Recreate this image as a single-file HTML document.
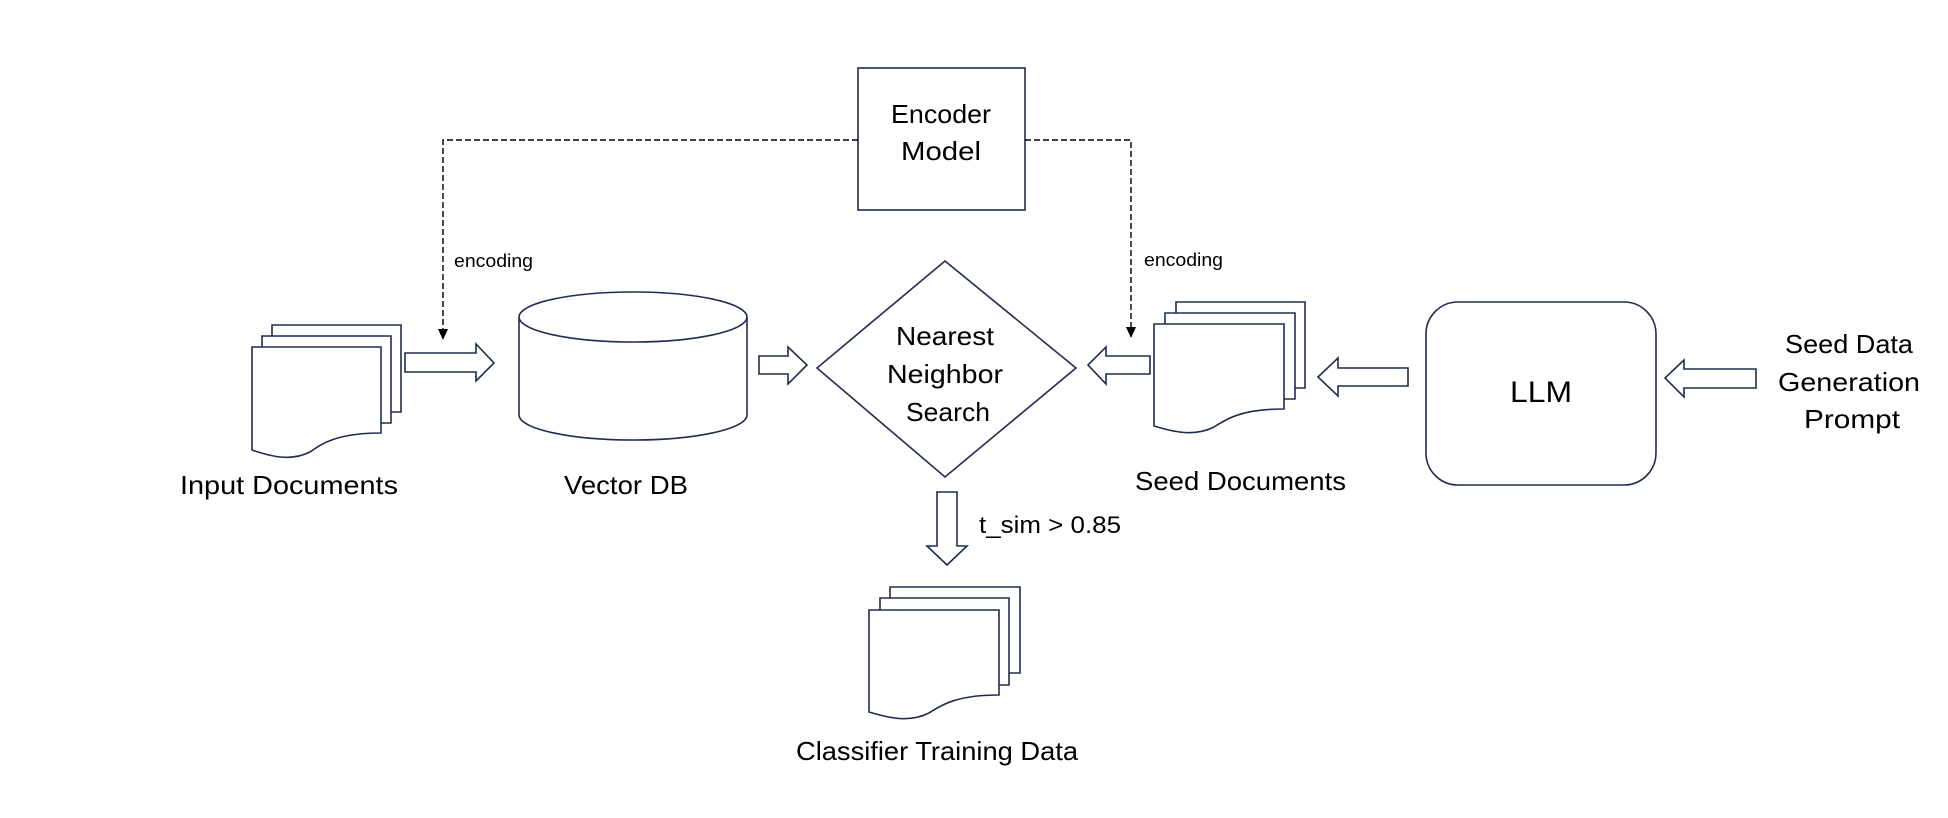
<!DOCTYPE html>
<html><head><meta charset="utf-8"><style>
html,body{margin:0;padding:0;background:#fff;}
svg{display:block;}
text{font-family:"Liberation Sans",sans-serif;fill:#000;}
</style></head><body>
<svg width="1948" height="818" viewBox="0 0 1948 818" xmlns="http://www.w3.org/2000/svg">
<g fill="#fff" stroke="#1f2d4e" stroke-width="1.6">
<!-- Encoder -->
<rect x="858" y="68" width="167" height="142"/>
<!-- Input docs -->
<path d="M272,325 H401 V412 H272 Z"/>
<path d="M262,336 H391 V423 H262 Z"/>
<path d="M252,347 H381 V433 C335,433 320,445 310,452 C290,462 270,456 252,450 Z"/>
<!-- Cylinder -->
<path d="M519,317 V415 A114,25 0 0 0 747,415 V317"/>
<ellipse cx="633" cy="317" rx="114" ry="25"/>
<!-- Diamond -->
<path d="M945,261 L1076,368 L945,477 L817,368 Z"/>
<!-- Seed docs -->
<path d="M1176,302 H1305 V388 H1176 Z"/>
<path d="M1165,313 H1295 V399 H1165 Z"/>
<path d="M1154,324 H1284 V409 C1238,409 1224,421 1214,427 C1194,437 1174,432 1154,426 Z"/>
<!-- LLM -->
<rect x="1426" y="302" width="230" height="183" rx="32"/>
<!-- Classifier docs -->
<path d="M890,587 H1020 V673 H890 Z"/>
<path d="M880,598 H1009 V685 H880 Z"/>
<path d="M869,610 H999 V695 C953,695 939,707 929,713 C909,723 889,718 869,712 Z"/>
<!-- block arrows -->
<path d="M405,353 H476 V344 L494,363 L476,381 V372 H405 Z"/>
<path d="M759,356 H788 V347 L807,365 L788,384 V374 H759 Z"/>
<path d="M1150,356 H1106 V347 L1088,365 L1106,384 V374 H1150 Z"/>
<path d="M1408,368 H1338 V358 L1318,377 L1338,396 V386 H1408 Z"/>
<path d="M1756,369 H1684 V360 L1665,378 L1684,397 V388 H1756 Z"/>
<path d="M937,492 H957 V546 H967 L947,565 L927,546 H937 Z"/>
</g>
<!-- dashed connectors -->
<g fill="none" stroke="#000" stroke-width="1.4" stroke-dasharray="6,3">
<path d="M858,140 H443 V330"/>
<path d="M1025,140 H1131 V328"/>
</g>
<path d="M438,329 L448,329 L443,340 Z" fill="#000"/>
<path d="M1126,327 L1136,327 L1131,338 Z" fill="#000"/>
<!-- text -->
<text x="941" y="123" font-size="26" text-anchor="middle" textLength="100" lengthAdjust="spacingAndGlyphs">Encoder</text>
<text x="941" y="160" font-size="26" text-anchor="middle" textLength="80" lengthAdjust="spacingAndGlyphs">Model</text>
<text x="454" y="267" font-size="18" textLength="79" lengthAdjust="spacingAndGlyphs">encoding</text>
<text x="1144" y="266" font-size="18" textLength="79" lengthAdjust="spacingAndGlyphs">encoding</text>
<text x="945" y="345" font-size="26" text-anchor="middle" textLength="98" lengthAdjust="spacingAndGlyphs">Nearest</text>
<text x="945" y="383" font-size="26" text-anchor="middle" textLength="116" lengthAdjust="spacingAndGlyphs">Neighbor</text>
<text x="948" y="421" font-size="26" text-anchor="middle" textLength="84" lengthAdjust="spacingAndGlyphs">Search</text>
<text x="180" y="494" font-size="26" textLength="218" lengthAdjust="spacingAndGlyphs">Input Documents</text>
<text x="564" y="494" font-size="26" textLength="124" lengthAdjust="spacingAndGlyphs">Vector DB</text>
<text x="1135" y="490" font-size="26" textLength="211" lengthAdjust="spacingAndGlyphs">Seed Documents</text>
<text x="1541" y="402" font-size="30" text-anchor="middle" textLength="62" lengthAdjust="spacingAndGlyphs">LLM</text>
<text x="1849" y="353" font-size="26" text-anchor="middle" textLength="128" lengthAdjust="spacingAndGlyphs">Seed Data</text>
<text x="1849" y="391" font-size="26" text-anchor="middle" textLength="142" lengthAdjust="spacingAndGlyphs">Generation</text>
<text x="1852" y="428" font-size="26" text-anchor="middle" textLength="96" lengthAdjust="spacingAndGlyphs">Prompt</text>
<text x="979" y="533" font-size="24" textLength="142" lengthAdjust="spacingAndGlyphs">t_sim &gt; 0.85</text>
<text x="796" y="760" font-size="26" textLength="282" lengthAdjust="spacingAndGlyphs">Classifier Training Data</text>
</svg>
</body></html>
